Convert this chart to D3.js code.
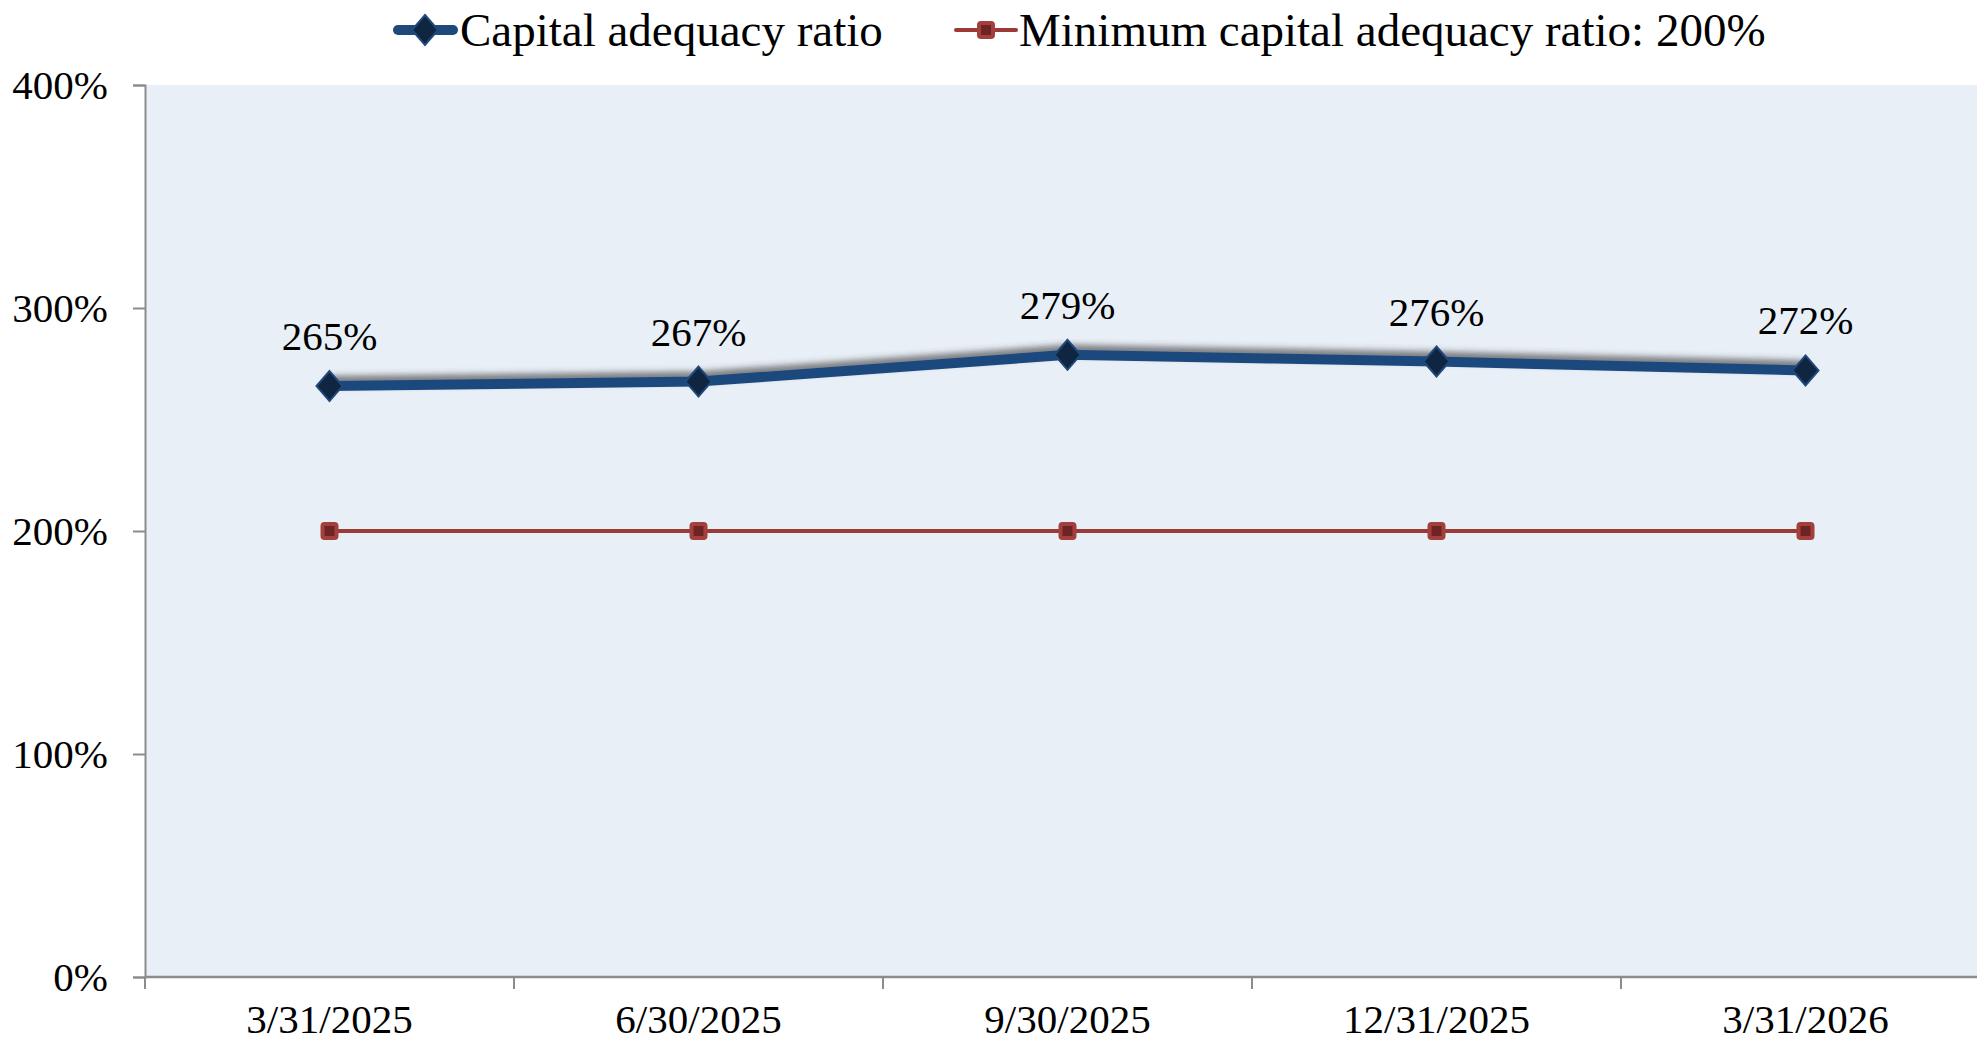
<!DOCTYPE html>
<html>
<head>
<meta charset="utf-8">
<script src="https://cdn.jsdelivr.net/npm/d3@7"></script>
<style>
  html, body { margin: 0; padding: 0; background: #fff; }
  svg { display: block; }
  text { font-family: "Liberation Serif", "Times New Roman", serif; fill: #000; }
</style>
</head>
<body>
<svg id="chart" width="1977" height="1043"></svg>
<script>
// chart data
const dates = ['3/31/2025', '6/30/2025', '9/30/2025', '12/31/2025', '3/31/2026'];
const capitalRatio = [265, 267, 279, 276, 272];
const minimumRatio = [200, 200, 200, 200, 200];
const yTicks = [0, 100, 200, 300, 400];
const seriesNames = ['Capital adequacy ratio', 'Minimum capital adequacy ratio: 200%'];

const dims = {
  svgWidth: 1977,
  svgHeight: 1043,
  margin: {top: 85, left: 145, bottom: 66, right: 0}
};
dims.height = dims.svgHeight - dims.margin.top - dims.margin.bottom;

const svg = d3.select('#chart');

// the plot area runs past the right edge of the picture
const x = d3.scaleBand()
  .domain(dates)
  .range([dims.margin.left, dims.margin.left + 5 * 369])
  .padding(0);

const y = d3.scaleLinear()
  .domain([0, 400])
  .range([dims.margin.top + dims.height, dims.margin.top]);

const defs = svg.append('defs');
defs.append('filter')
  .attr('id', 'shadow')
  .attr('x', '-10%').attr('y', '-50%')
  .attr('width', '120%').attr('height', '200%')
  .append('feDropShadow')
  .attr('dx', 0).attr('dy', -5)
  .attr('stdDeviation', 3)
  .attr('flood-color', '#3a3a3a')
  .attr('flood-opacity', 0.65);

// plot background
svg.append('rect')
  .attr('x', dims.margin.left)
  .attr('y', y(400))
  .attr('width', dims.svgWidth - dims.margin.left)
  .attr('height', y(0) - y(400))
  .attr('fill', '#e9eff7');

// y axis
const yAxis = svg.append('g')
  .attr('transform', `translate(${dims.margin.left},0)`)
  .call(d3.axisLeft(y).tickValues(yTicks).tickFormat(d => d + '%').tickSize(12).tickPadding(25));
yAxis.select('.domain').attr('stroke', '#8c8c8c').attr('stroke-width', 2);
yAxis.selectAll('.tick line').attr('stroke', '#8c8c8c').attr('stroke-width', 2);
yAxis.selectAll('.tick text')
  .attr('font-size', 41)
  .attr('fill', '#000');

// x axis: labels at band centres, ticks at band edges
const xAxis = svg.append('g')
  .attr('transform', `translate(0,${y(0)})`)
  .call(d3.axisBottom(x).tickSize(0));
xAxis.select('.domain').remove();
xAxis.selectAll('.tick text')
  .attr('y', 56)
  .attr('dy', null)
  .attr('font-size', 41)
  .attr('fill', '#000');

svg.append('line')
  .attr('x1', dims.margin.left).attr('x2', dims.svgWidth)
  .attr('y1', y(0)).attr('y2', y(0))
  .attr('stroke', '#8c8c8c').attr('stroke-width', 2.5);

svg.append('g').selectAll('line')
  .data(dates.map(d => x(d)))
  .join('line')
  .attr('x1', d => d).attr('x2', d => d)
  .attr('y1', y(0)).attr('y2', y(0) + 12)
  .attr('stroke', '#8c8c8c').attr('stroke-width', 2);

const line = d3.line()
  .x((d, i) => x(dates[i]) + x.bandwidth() / 2)
  .y(d => y(d));

// minimum line
svg.append('path')
  .datum(minimumRatio)
  .attr('d', line)
  .attr('fill', 'none')
  .attr('stroke', '#9b3a37')
  .attr('stroke-width', 4);

svg.append('g').selectAll('rect')
  .data(minimumRatio)
  .join('rect')
  .attr('x', (d, i) => x(dates[i]) + x.bandwidth() / 2 - 7)
  .attr('y', d => y(d) - 7)
  .attr('width', 14).attr('height', 14)
  .attr('rx', 2)
  .attr('fill', '#6e2424')
  .attr('stroke', '#a3403d')
  .attr('stroke-width', 4);

// capital adequacy line
svg.append('path')
  .datum(capitalRatio)
  .attr('d', line)
  .attr('fill', 'none')
  .attr('stroke', '#1f497d')
  .attr('stroke-width', 10)
  .attr('stroke-linejoin', 'round')
  .attr('filter', 'url(#shadow)');

const diamond = 'M0,-15 L13,0 L0,15 L-13,0 Z';
svg.append('g').selectAll('path')
  .data(capitalRatio)
  .join('path')
  .attr('transform', (d, i) => `translate(${x(dates[i]) + x.bandwidth() / 2},${y(d)})`)
  .attr('d', diamond)
  .attr('fill', '#10253f')
  .attr('stroke', '#1f497d')
  .attr('stroke-width', 2);

svg.append('g').selectAll('text')
  .data(capitalRatio)
  .join('text')
  .attr('x', (d, i) => x(dates[i]) + x.bandwidth() / 2)
  .attr('y', d => y(d) - 36)
  .attr('text-anchor', 'middle')
  .attr('font-size', 41)
  .text(d => d + '%');

// legend
const legend = svg.append('g').attr('transform', 'translate(0,30)');

const leg1 = legend.append('g').attr('transform', 'translate(393,0)');
leg1.append('line')
  .attr('x1', 5).attr('x2', 60).attr('y1', 0).attr('y2', 0)
  .attr('stroke', '#1f497d').attr('stroke-width', 10).attr('stroke-linecap', 'round');
leg1.append('path')
  .attr('transform', 'translate(32,0)')
  .attr('d', diamond)
  .attr('fill', '#10253f').attr('stroke', '#1f497d').attr('stroke-width', 2);
leg1.append('text')
  .attr('x', 67).attr('y', 0).attr('dy', '0.33em')
  .attr('font-size', 47)
  .text(seriesNames[0]);

const leg2 = legend.append('g').attr('transform', 'translate(956,0)');
leg2.append('line')
  .attr('x1', 0).attr('x2', 60).attr('y1', 0).attr('y2', 0)
  .attr('stroke', '#9b3a37').attr('stroke-width', 4).attr('stroke-linecap', 'round');
leg2.append('rect')
  .attr('x', 23).attr('y', -7).attr('width', 14).attr('height', 14).attr('rx', 2)
  .attr('fill', '#6e2424').attr('stroke', '#a3403d').attr('stroke-width', 4);
leg2.append('text')
  .attr('x', 63).attr('y', 0).attr('dy', '0.33em')
  .attr('font-size', 47)
  .text(seriesNames[1]);
</script>
</body>
</html>
